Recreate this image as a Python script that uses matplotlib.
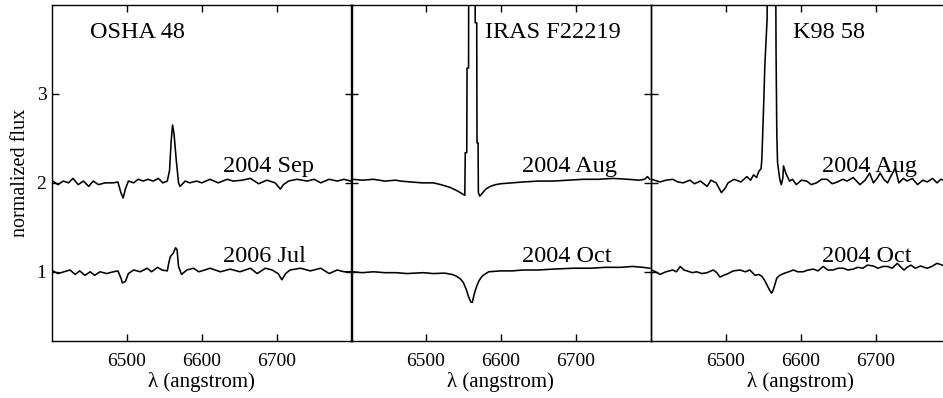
import matplotlib
matplotlib.use("Agg")
import matplotlib.pyplot as plt

plt.rcParams['font.family'] = ['Liberation Serif', 'DejaVu Serif']

# --- values ---
panel_names = ["OSHA 48", "IRAS F22219", "K98 58"]
upper_dates = ["2004 Sep", "2004 Aug", "2004 Aug"]
lower_dates = ["2006 Jul", "2004 Oct", "2004 Oct"]
x_ticks = [6500, 6600, 6700]
y_ticks = [1, 2, 3]

osha_sep_wave = [6401, 6408, 6415, 6422, 6428, 6435, 6442, 6449, 6455, 6462, 6471, 6482,
                 6488, 6492, 6495, 6498, 6502, 6509, 6515, 6522, 6528, 6535, 6542, 6548,
                 6554, 6557, 6559, 6561, 6563, 6566, 6569, 6571, 6578, 6584, 6593, 6600,
                 6611, 6622, 6634, 6642, 6654, 6665, 6676, 6687, 6698, 6705, 6709, 6716,
                 6727, 6741, 6750, 6759, 6770, 6781, 6790, 6799]
osha_sep_flux = [2.02, 1.98, 2.02, 2.00, 2.05, 1.98, 2.02, 1.96, 2.02, 1.98, 2.00, 2.00,
                 2.01, 1.89, 1.83, 1.93, 2.02, 2.00, 2.04, 2.02, 2.04, 2.02, 2.05, 2.00,
                 2.02, 2.14, 2.45, 2.65, 2.55, 2.25, 2.00, 1.96, 2.02, 2.00, 2.02, 2.00,
                 2.04, 2.00, 2.04, 2.02, 2.03, 2.05, 1.99, 2.03, 2.00, 1.93, 1.98, 2.02,
                 2.04, 2.02, 2.04, 2.00, 2.04, 2.02, 2.04, 2.02]

osha_jul_wave = [6401, 6408, 6416, 6424, 6431, 6437, 6444, 6451, 6457, 6464, 6473, 6482,
                 6488, 6492, 6494, 6498, 6502, 6509, 6518, 6527, 6533, 6541, 6547, 6554,
                 6556, 6558, 6562, 6565, 6567, 6569, 6573, 6580, 6589, 6596, 6604, 6611,
                 6625, 6638, 6651, 6665, 6674, 6685, 6694, 6702, 6707, 6712, 6718, 6732,
                 6745, 6759, 6770, 6781, 6790, 6799]
osha_jul_flux = [1.01, 0.98, 1.00, 1.02, 0.97, 1.01, 0.96, 1.00, 0.96, 1.00, 0.98, 1.00,
                 1.01, 0.93, 0.875, 0.89, 0.98, 1.02, 1.00, 1.04, 1.00, 1.05, 1.02, 1.01,
                 1.10, 1.17, 1.21, 1.27, 1.25, 1.06, 0.97, 1.02, 1.04, 1.00, 1.02, 1.04,
                 1.00, 1.03, 1.00, 1.04, 0.98, 1.04, 1.02, 0.98, 0.91, 0.98, 1.02, 1.04,
                 1.01, 1.04, 0.98, 1.02, 1.00, 1.00]

iras_aug_wave = [6402, 6415, 6430, 6445, 6460, 6466, 6480, 6495, 6510, 6520, 6532, 6542,
                 6548, 6552.0, 6552.6, 6554.6, 6555.0, 6557.0, 6557.4, 6565.5, 6565.9,
                 6567.9, 6568.3, 6569.7, 6570.1, 6572, 6575, 6580, 6586, 6593, 6600, 6615,
                 6630, 6650, 6670, 6690, 6710, 6730, 6750, 6770, 6785, 6792, 6796, 6799]
iras_aug_flux = [2.04, 2.03, 2.04, 2.02, 2.03, 2.02, 2.01, 2.00, 2.00, 1.98, 1.95, 1.91,
                 1.88, 1.86, 2.34, 2.34, 3.29, 3.29, 5.50, 5.50, 3.80,
                 3.80, 2.45, 2.45, 1.89, 1.85, 1.88, 1.93, 1.96, 1.98, 1.99, 2.00,
                 2.01, 2.02, 2.02, 2.03, 2.04, 2.04, 2.05, 2.04, 2.03, 2.04, 2.07, 2.04]

iras_oct_wave = [6402, 6415, 6430, 6445, 6460, 6475, 6496, 6510, 6525, 6535, 6541, 6546,
                 6550, 6554, 6557, 6560, 6562, 6564, 6566, 6568, 6571, 6575, 6580, 6584,
                 6600, 6615, 6630, 6650, 6670, 6697, 6720, 6740, 6760, 6776, 6790, 6799]
iras_oct_flux = [1.00, 0.99, 1.00, 0.99, 0.99, 0.98, 0.99, 0.98, 0.985, 0.97, 0.95, 0.92,
                 0.88, 0.80, 0.72, 0.66, 0.655, 0.73, 0.79, 0.84, 0.90, 0.95, 0.98, 1.00,
                 1.01, 1.01, 1.02, 1.02, 1.03, 1.04, 1.04, 1.05, 1.05, 1.06, 1.05, 1.04]

k98_aug_wave = [6401, 6412, 6420, 6429, 6436, 6443, 6452, 6458, 6466, 6475, 6480, 6487,
                6494, 6499, 6503, 6511, 6520, 6528, 6533, 6537, 6541, 6544, 6547, 6548,
                6550, 6552, 6555, 6557, 6566, 6567, 6568, 6569, 6572, 6574, 6576, 6577,
                6580, 6585, 6589, 6594, 6601, 6608, 6614, 6621, 6628, 6635, 6642, 6649,
                6656, 6662, 6670, 6679, 6686, 6692, 6697, 6702, 6706, 6711, 6716, 6720,
                6724, 6726, 6731, 6737, 6742, 6749, 6756, 6763, 6769, 6776, 6782, 6787,
                6795, 6800]
k98_aug_flux = [2.04, 2.01, 2.03, 2.04, 2.01, 2.00, 2.03, 1.99, 2.02, 1.96, 2.03, 2.00,
                1.89, 1.94, 2.00, 2.04, 2.01, 2.07, 2.03, 2.09, 2.06, 2.13, 2.16, 2.26,
                2.75, 3.31, 3.83, 5.50, 5.50, 3.50, 2.56, 2.23, 2.04, 1.98, 2.05, 2.19,
                2.11, 2.02, 2.04, 1.98, 2.03, 2.02, 1.98, 2.00, 2.04, 2.04, 1.99, 2.01,
                2.04, 2.02, 2.06, 1.98, 2.03, 2.11, 2.00, 2.05, 2.11, 2.04, 2.00, 2.07,
                2.13, 2.17, 2.00, 2.05, 2.02, 2.05, 1.98, 2.03, 2.01, 2.05, 2.00, 2.04,
                2.02, 2.04]

k98_oct_wave = [6401, 6406, 6412, 6420, 6429, 6434, 6439, 6444, 6448, 6455, 6461, 6468,
                6475, 6483, 6488, 6492, 6497, 6503, 6510, 6519, 6526, 6532, 6539, 6544,
                6548, 6552, 6555, 6558, 6561, 6563, 6566, 6568, 6572, 6577, 6584, 6590,
                6596, 6603, 6610, 6617, 6623, 6630, 6636, 6643, 6650, 6657, 6663, 6670,
                6676, 6683, 6689, 6697, 6703, 6710, 6716, 6722, 6729, 6734, 6738, 6742,
                6747, 6753, 6760, 6765, 6769, 6775, 6782, 6789, 6795, 6800]
k98_oct_flux = [1.02, 1.00, 0.97, 1.00, 1.02, 1.00, 1.06, 1.02, 1.01, 0.99, 1.00, 0.98,
                0.99, 1.02, 0.99, 0.94, 0.96, 0.98, 1.01, 1.02, 1.00, 1.02, 0.96, 0.97,
                0.95, 0.90, 0.85, 0.80, 0.76, 0.79, 0.87, 0.93, 0.96, 0.98, 1.00, 1.02,
                1.00, 1.00, 1.02, 1.03, 1.01, 1.06, 1.02, 1.02, 1.04, 1.04, 1.02, 1.03,
                1.05, 1.04, 1.075, 1.065, 1.04, 1.06, 1.06, 1.04, 1.095, 1.05, 1.02, 1.05,
                1.075, 1.04, 1.065, 1.05, 1.04, 1.06, 1.095, 1.075, 1.06, 1.07]

spectra = [
    [(osha_sep_wave, osha_sep_flux), (osha_jul_wave, osha_jul_flux)],
    [(iras_aug_wave, iras_aug_flux), (iras_oct_wave, iras_oct_flux)],
    [(k98_aug_wave, k98_aug_flux), (k98_oct_wave, k98_oct_flux)],
]

# --- figure ---
W, H = 943, 398
fig = plt.figure(figsize=(W / 100, H / 100), dpi=100)

lefts = [52, 351, 651]
pw = 299.5
bottom = (H - 340.7) / H
height = (340.7 - 5) / H
name_x = [6451, 6579, 6589]

for i, left in enumerate(lefts):
    ax = fig.add_axes([left / W, bottom, pw / W, height])
    for wave, flux in spectra[i]:
        ax.plot(wave, flux, color='black', lw=1.15)
    ax.set_xlim(6400, 6800)
    ax.set_ylim(0.225, 4.0)
    ax.set_xticks(x_ticks)
    ax.set_yticks(y_ticks)
    ax.tick_params(direction='in', top=True, right=True, length=5, width=1.0,
                   labelsize=14, pad=9)
    for sp in ax.spines.values():
        sp.set_linewidth(1.0)
    ax.set_xlabel("λ (angstrom)", fontsize=15, labelpad=1)
    if i == 0:
        ax.set_ylabel("normalized flux", fontsize=14.5, labelpad=5)
        ax.tick_params(axis='y', pad=4)
    else:
        ax.set_yticklabels([])
    ax.text(name_x[i], 3.69, panel_names[i], fontsize=17.5, va='center', ha='left')
    ax.text(6629, 2.12, upper_dates[i], fontsize=17.5, va='baseline', ha='left')
    ax.text(6629, 1.11, lower_dates[i], fontsize=17.5, va='baseline', ha='left')
    ax.patch.set_alpha(0)

fig.savefig("out.png", dpi=100)
